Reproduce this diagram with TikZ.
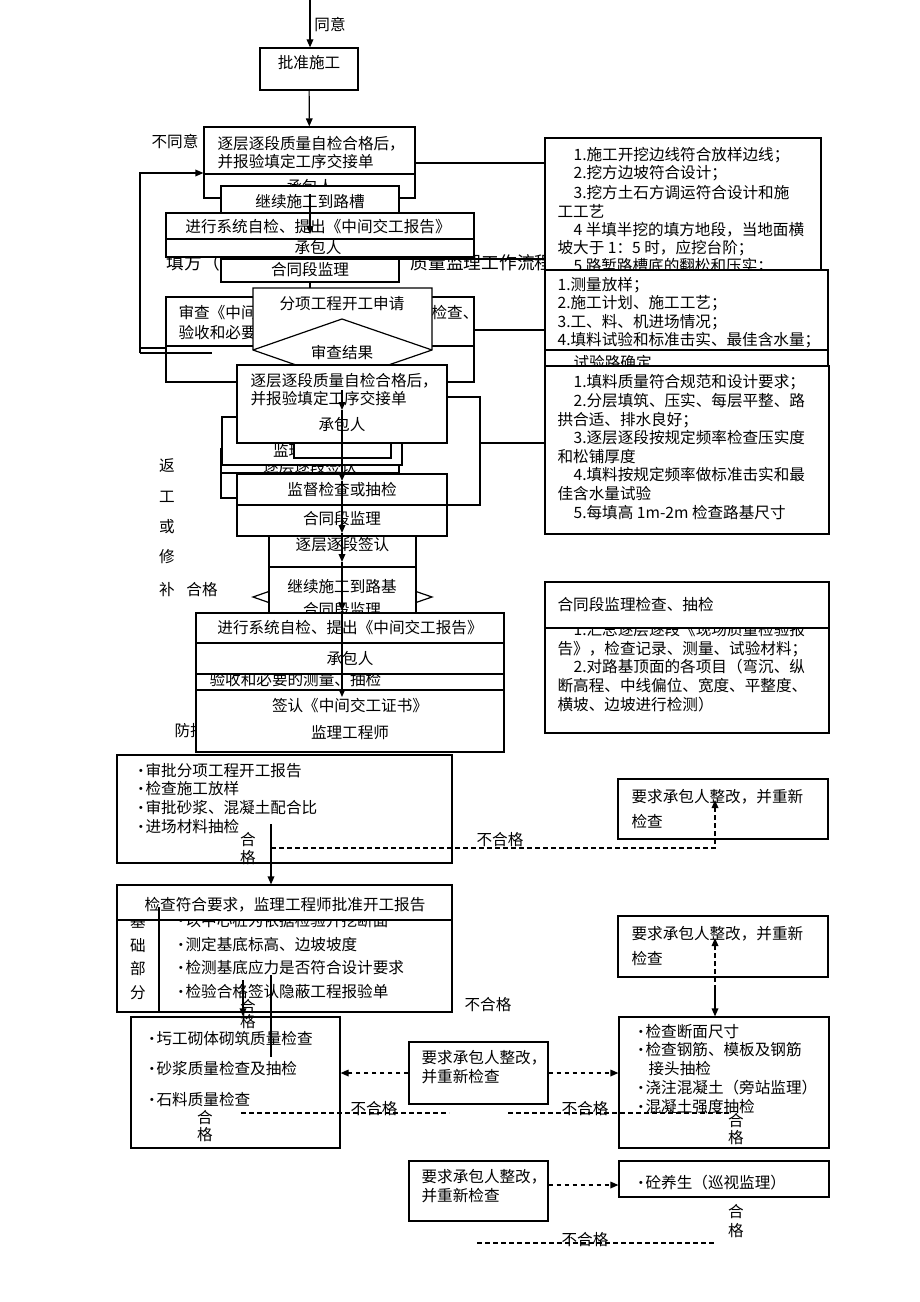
\documentclass[tikz,border=0pt]{standalone}
\usepackage{fontspec}
\setmainfont{Noto Sans CJK SC}
\usetikzlibrary{arrows.meta,fit}
\newcommand\zi{\fontsize{11.7}{14}\selectfont}
\newcommand\dazi{\fontsize{13.3}{16}\selectfont}
\newcommand\dian{\makebox[9pt][l]{\fontsize{11}{11}\selectfont•}}
\tikzset{
  box/.style={draw, fill=white, inner sep=0pt, font=\zi},
  txt/.style={inner sep=0pt, font=\zi},
  lt/.style={txt, anchor=west},
  arr/.style={-{Triangle[length=6pt,width=5pt]}},
  xu/.style={dash pattern=on 3.5pt off 2.5pt},
}
\begin{document}
\begin{tikzpicture}[x=0.75pt,y=-0.75pt,line width=0.9pt]
\useasboundingbox (0,0) rectangle (920,1302);

% title, mostly hidden behind the boxes
\node[lt, font=\dazi] (biaoti1) at (166,263) {填方（};
\node[lt, font=\dazi] (biaoti2) at (410,263) {质量监理工作流程};

% right-hand check lists
\node[box, fit={(545,138) (821,282)}] (wafang) {};
\node[lt] (wa1) at (573,155) {1.施工开挖边线符合放样边线；};
\node[lt] (wa2) at (573,173) {2.挖方边坡符合设计；};
\node[lt] (wa3) at (573,193) {3.挖方土石方调运符合设计和施};
\node[lt] (wa4) at (557,211) {工工艺};
\node[lt] (wa5) at (573,230) {4 半填半挖的填方地段，当地面横};
\node[lt] (wa6) at (557,248) {坡大于 1：5 时，应挖台阶；};
\node[lt] (wa7) at (573,266) {5 路堑路槽底的翻松和压实；};

\node[box, fit={(545,270) (828,372)}] (zhunbei) {};
\draw (545,350) -- (828,350);
\node[lt] (zb1) at (557,285) {1.测量放样；};
\node[lt] (zb2) at (557,303) {2.施工计划、施工工艺；};
\node[lt] (zb3) at (557,322) {3.工、料、机进场情况；};
\node[lt] (zb4) at (557,340) {4.填料试验和标准击实、最佳含水量；};
\node[lt] (zb5) at (573,363) {试验路确定};

\node[box, fit={(545,366) (829,534)}] (tianzhu) {};
\node[lt] (tz1) at (573,382) {1.填料质量符合规范和设计要求；};
\node[lt] (tz2) at (573,401) {2.分层填筑、压实、每层平整、路};
\node[lt] (tz3) at (557,420) {拱合适、排水良好；};
\node[lt] (tz4) at (573,438) {3.逐层逐段按规定频率检查压实度};
\node[lt] (tz5) at (557,457) {和松铺厚度};
\node[lt] (tz6) at (573,475) {4.填料按规定频率做标准击实和最};
\node[lt] (tz7) at (557,494) {佳含水量试验};
\node[lt] (tz8) at (573,513) {5.每填高 1m-2m 检查路基尺寸};

\node[box, fit={(545,582) (829,733)}] (choujian) {};
\node[lt] (cj1) at (573,630) {1.汇总逐层逐段《现场质量检验报};
\node[lt] (cj2) at (557,649) {告》，检查记录、测量、试验材料；};
\node[lt] (cj3) at (573,667) {2.对路基顶面的各项目（弯沉、纵};
\node[lt] (cj4) at (557,686) {断高程、中线偏位、宽度、平整度、};
\node[lt] (cj5) at (557,705) {横坡、边坡进行检测）};
\node[box, fit={(545,582) (829,628)}] (choujiantou) {};
\node[lt] (cj0) at (557,605) {合同段监理检查、抽检};

% upper column
\node[box, fit={(260,48) (358,90)}] (pizhun) {批准施工};
\coordinate (ding) at (310,0);
\draw[arr] (ding) -- (ding |- pizhun.north);
\node[txt] (tongyi) at (330,25) {同意};

\node[box, fit={(204,127) (415,198)}] (zijian1) {};
\draw (204,174) -- (415,174);
\node[lt] (zj1a) at (217,144) {逐层逐段质量自检合格后，};
\node[lt] (zj1b) at (217,162) {并报验填定工序交接单};
\node[txt] (zj1c) at (310,187) {承包人};
\draw[arr] (pizhun) -- (zijian1);
\coordinate (youxian1) at (415,163);
\draw (youxian1) -- (youxian1 -| wafang.west);
\node[txt] (butongyi) at (175,142) {不同意};

\node[box, fit={(221,186) (399,282)}] (lucao) {};
\node[txt] (lc1) at (310,202) {继续施工到路槽};
\node[txt] (lc2) at (310,270) {合同段监理};

\node[box, fit={(166,213) (474,257)}] (baogao1) {};
\draw (166,239) -- (474,239);
\node[txt] (bg1a) at (318,227) {进行系统自检、提出《中间交工报告》};
\node[txt] (bg1b) at (318,248) {承包人};
\draw (221,259) -- (545,259);
\draw[arr] (310,194) -- (310,234);
\draw (310,282) -- (310,289);

\node[box, fit={(166,297) (474,382)}] (shencha) {};
\draw (166,346) -- (474,346);
\node[lt] (sc1) at (178,313) {审查《中间};
\node[lt] (sc2) at (431,313) {检查、};
\node[lt] (sc3) at (178,333) {验收和必要的测量、抽检};
\coordinate (youxian2) at (474,330);
\draw (youxian2) -- (youxian2 -| zhunbei.west);

\draw[fill=white] (253,350) -- (253,288) -- (432,288) -- (432,350) -- (342,381) -- cycle;
\draw (253,350) -- (342,319) -- (432,350);
\node[txt] (shenqing) at (342,304) {分项工程开工申请};
\node[txt] (jieguo) at (342,353) {审查结果};

% return loop on the left
\coordinate (fanhui) at (140,353);
\coordinate (fanhuiding) at (140,173);
\draw[arr] (fanhui) -- (fanhuiding) -- (fanhuiding -| zijian1.west);
\draw (fanhui) -- (212,353);
\draw (140,348) -- (166,348);

% lower column
\node[box, fit={(237,397) (480,505)}] (beihou) {};
\coordinate (youxian3) at (480,443);
\draw (youxian3) -- (youxian3 -| tianzhu.west);
\node[box, fit={(221,449) (399,498)}] (qianren0) {};
\draw (221,473) -- (399,473);
\node[txt] (qr0) at (310,467) {逐层逐段签认};
\node[box, fit={(222,417) (402,465)}] (jianli0) {};
\node[txt] (jl0) at (312,451) {监理工程师};
\node[box, fit={(294,425) (391,458)}] (xiaokuang) {};

\node[box, fit={(237,365) (447,443)}] (zijian2) {};
\node[lt] (zj2a) at (250,381) {逐层逐段质量自检合格后，};
\node[lt] (zj2b) at (250,399) {并报验填定工序交接单};
\node[txt] (zj2c) at (342,424) {承包人};

\node[box, fit={(237,474) (447,536)}] (jiandu) {};
\draw (237,505) -- (447,505);
\node[txt] (jd1) at (342,490) {监督检查或抽检};
\node[txt] (jd2) at (342,519) {合同段监理};

\draw[fill=white] (253,597) -- (342,566) -- (432,597) -- (342,628) -- cycle;
\node[box, fit={(269,536) (416,567)}] (qianren) {逐层逐段签认};
\node[box, fit={(269,567) (416,628)}] (luji) {};
\node[txt] (lj1) at (342,587) {继续施工到路基};
\node[txt] (lj2) at (342,610) {合同段监理};

\node[box, fit={(196,645) (504,690)}] (yanshou) {};
\node[lt] (ys1) at (209,680) {验收和必要的测量、抽检};
\node[box, fit={(196,613) (504,674)}] (baogao2) {};
\draw (196,643) -- (504,643);
\node[txt] (bg2a) at (350,628) {进行系统自检、提出《中间交工报告》};
\node[txt] (bg2b) at (350,658) {承包人};

\node[lt] (fanghu) at (174,731) {防护};
\node[box, fit={(196,690) (504,752)}] (zhengshu) {};
\node[txt] (zs1) at (350,706) {签认《中间交工证书》};
\node[txt] (zs2) at (350,733) {监理工程师};

\draw[arr] (342,390) -- (342,410);
\draw[arr] (342,410) -- (342,481);
\draw[arr] (342,481) -- (342,533);
\draw[arr] (342,533) -- (342,562);
\draw[arr] (342,562) -- (342,611);
\draw[arr] (342,611) -- (342,697);

\node[txt] (fan) at (167,466) {返};
\node[txt] (gong) at (167,497) {工};
\node[txt] (huo) at (167,527) {或};
\node[txt] (xiu) at (167,557) {修};
\node[txt] (bu) at (167,590) {补};
\node[txt] (hege0) at (202,590) {合格};

% structures part
\node[box, fit={(117,755) (452,863)}] (shenpi) {};
\node[lt] (sp1) at (133,771) {\dian 审批分项工程开工报告};
\node[lt] (sp2) at (133,789) {\dian 检查施工放样};
\node[lt] (sp3) at (133,808) {\dian 审批砂浆、混凝土配合比};
\node[lt] (sp4) at (133,827) {\dian 进场材料抽检};
\node[txt] (he1) at (248,840) {合};
\node[txt] (ge1) at (248,858) {格};

\node[box, fit={(618,779) (828,839)}] (zhenggai1) {};
\node[lt] (zg1a) at (631,797) {要求承包人整改，并重新};
\node[lt] (zg1b) at (631,821) {检查};
\coordinate (bhg1) at (271,848);
\draw[xu, arr] (bhg1) -- (715,848) -- (715,800);
\node[txt] (buhege1) at (500,840) {不合格};

\node[box, fit={(117,885) (452,1012)}] (jichu) {};
\node[txt] (ji) at (138,921) {基};
\node[txt] (chu) at (138,946) {础};
\node[txt] (bufen) at (138,969) {部};
\node[txt] (fen) at (138,993) {分};
\node[lt] (jc1) at (173,921) {\dian 以中心桩为依据检验开挖断面};
\node[lt] (jc2) at (173,945) {\dian 测定基底标高、边坡坡度};
\node[lt] (jc3) at (173,968) {\dian 检测基底应力是否符合设计要求};
\node[lt] (jc4) at (173,992) {\dian 检验合格签认隐蔽工程报验单};
\node[box, fit={(117,885) (452,920)}] (pizhunkg) {};
\node[txt] (pk1) at (285,905) {检查符合要求，监理工程师批准开工报告};
\draw (159,907) -- (159,1012);
\coordinate (hg1) at (271,824);
\draw[arr] (hg1) -- (hg1 |- pizhunkg.north);

\node[box, fit={(618,916) (828,977)}] (zhenggai2) {};
\node[lt] (zg2a) at (631,934) {要求承包人整改，并重新};
\node[lt] (zg2b) at (631,958) {检查};
\node[txt] (buhege2) at (488,1005) {不合格};

\node[box, fit={(131,1017) (340,1148)}] (goujian) {};
\node[lt] (gj1) at (144,1038) {\dian 圬工砌体砌筑质量检查};
\node[lt] (gj2) at (144,1069) {\dian 砂浆质量检查及抽检};
\node[lt] (gj3) at (144,1100) {\dian 石料质量检查};
\node[txt] (he3) at (205,1118) {合};
\node[txt] (ge3) at (205,1135) {格};
\coordinate (hg2) at (243,980);
\draw[arr] (hg2) -- (hg2 |- goujian.north);
\node[txt] (he2) at (248,1007) {合};
\node[txt] (ge2) at (248,1022) {格};
\draw (271,975) -- (271,1057);

\node[box, fit={(619,1017) (829,1148)}] (hunningtu) {};
\node[lt] (hn1) at (633,1032) {\dian 检查断面尺寸};
\node[lt] (hn2) at (633,1050) {\dian 检查钢筋、模板及钢筋};
\node[lt] (hn3) at (648,1069) {接头抽检};
\node[lt] (hn4) at (633,1088) {\dian 浇注混凝土（旁站监理）};
\node[lt] (hn5) at (633,1107) {\dian 混凝土强度抽检};
\node[txt] (he4) at (736,1121) {合};
\node[txt] (ge4) at (736,1138) {格};
\coordinate (zg2xia) at (715,990);
\draw[xu, arr] (zg2xia) -- (715,938);
\draw[arr] (zg2xia) -- (zg2xia |- hunningtu.north);

\node[box, fit={(409,1042) (548,1104)}] (zhenggai3) {};
\node[lt] (zg3a) at (421,1058) {要求承包人整改，};
\node[lt] (zg3b) at (421,1077) {并重新检查};
\draw[xu, arr] (zhenggai3.west) -- (zhenggai3.west -| goujian.east);
\draw[xu, arr] (zhenggai3.east) -- (zhenggai3.east -| hunningtu.west);
\draw[xu] (241,1113) -- (449,1113);
\draw[xu] (508,1113) -- (731,1113);
\node[txt] (buhege3) at (374,1109) {不合格};
\node[txt] (buhege4) at (585,1109) {不合格};

\node[box, fit={(409,1161) (548,1221)}] (zhenggai4) {};
\node[lt] (zg4a) at (421,1177) {要求承包人整改，};
\node[lt] (zg4b) at (421,1196) {并重新检查};
\node[box, fit={(619,1161) (829,1197)}] (yangsheng) {};
\node[lt] (yh1) at (633,1183) {\dian 砼养生（巡视监理）};
\draw[xu, arr] ([yshift=4.5pt]zhenggai4.east) -- ([yshift=4.5pt]zhenggai4.east -| yangsheng.west);
\node[txt] (he5) at (736,1212) {合};
\node[txt] (ge5) at (736,1231) {格};
\draw[xu] (477,1243) -- (716,1243);
\node[txt] (buhege5) at (585,1240) {不合格};
\end{tikzpicture}
\end{document}
